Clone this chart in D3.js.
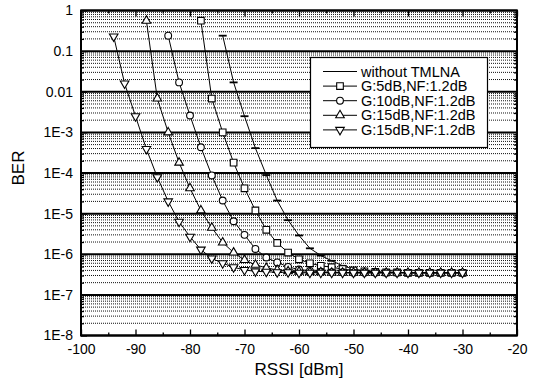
<!DOCTYPE html>
<html>
<head>
<meta charset="utf-8">
<script src="https://cdn.jsdelivr.net/npm/d3@7"></script>
<style>
  body { margin: 0; background: #fff; }
  svg { display: block; font-family: "Liberation Sans", Arial, sans-serif; }
</style>
</head>
<body>
<svg id="chart" width="534" height="383"></svg>
<script>
// axis ticks
const rssiTicks = [-100, -90, -80, -70, -60, -50, -40, -30, -20];
const rssiMinorTicks = [-95, -85, -75, -65, -55, -45, -35, -25];
const berTicks = [1, 0.1, 0.01, 1e-3, 1e-4, 1e-5, 1e-6, 1e-7, 1e-8];
const berTickLabels = ["1", "0.1", "0.01", "1E-3", "1E-4", "1E-5", "1E-6", "1E-7", "1E-8"];

// without TMLNA
const rssiWithout = [-74, -72, -70, -68, -66, -64, -62, -60, -58, -56, -54, -52, -50, -48, -46, -44, -42, -40, -38, -36, -34, -32, -30];
const berWithout = [0.24, 0.017, 2.5e-3, 4.1e-4, 8.9e-5, 2.1e-5, 6.9e-6, 2.9e-6, 1.4e-6, 9.3e-7, 6.9e-7, 5.2e-7, 4.3e-7, 3.9e-7, 3.7e-7, 3.6e-7, 3.6e-7, 3.5e-7, 3.5e-7, 3.5e-7, 3.5e-7, 3.5e-7, 3.5e-7];

// G:5dB
const rssiG5 = [-78, -76, -74, -72, -70, -68, -66, -64, -62, -60, -58, -56, -54, -52, -50, -48, -46, -44, -42, -40, -38, -36, -34, -32, -30];
const berG5 = [0.56, 6.8e-3, 1.0e-3, 1.8e-4, 4.2e-5, 1.2e-5, 4.0e-6, 1.9e-6, 1.1e-6, 7.5e-7, 6.0e-7, 5.2e-7, 4.8e-7, 4.3e-7, 4.0e-7, 3.8e-7, 3.7e-7, 3.6e-7, 3.6e-7, 3.5e-7, 3.5e-7, 3.5e-7, 3.5e-7, 3.5e-7, 3.5e-7];

// G:10dB
const rssiG10 = [-84, -82, -80, -78, -76, -74, -72, -70, -68, -66, -64, -62, -60, -58, -56, -54, -52, -50, -48, -46, -44, -42, -40, -38, -36, -34, -32, -30];
const berG10 = [0.24, 0.017, 2.6e-3, 4.3e-4, 8.7e-5, 2.1e-5, 6.5e-6, 3.0e-6, 1.35e-6, 8.3e-7, 6.3e-7, 4.9e-7, 4.2e-7, 3.9e-7, 3.7e-7, 3.6e-7, 3.6e-7, 3.5e-7, 3.5e-7, 3.5e-7, 3.5e-7, 3.5e-7, 3.5e-7, 3.5e-7, 3.5e-7, 3.5e-7, 3.5e-7, 3.5e-7];

// G:15dB (up triangles)
const rssiG15a = [-88, -86, -84, -82, -80, -78, -76, -74, -72, -70, -68, -66, -64, -62, -60, -58, -56, -54, -52, -50, -48, -46, -44, -42, -40, -38, -36, -34, -32, -30];
const berG15a = [0.56, 6.8e-3, 1.0e-3, 1.8e-4, 4.2e-5, 1.2e-5, 4.5e-6, 1.95e-6, 1.1e-6, 7.2e-7, 5.5e-7, 4.6e-7, 4.1e-7, 3.8e-7, 3.7e-7, 3.6e-7, 3.6e-7, 3.5e-7, 3.5e-7, 3.5e-7, 3.5e-7, 3.5e-7, 3.5e-7, 3.5e-7, 3.5e-7, 3.5e-7, 3.5e-7, 3.5e-7, 3.5e-7, 3.5e-7];

// G:15dB (down triangles)
const rssiG15b = [-94, -92, -90, -88, -86, -84, -82, -80, -78, -76, -74, -72, -70, -68, -66, -64, -62, -60, -58, -56, -54, -52, -50, -48, -46, -44, -42, -40, -38, -36, -34, -32, -30];
const berG15b = [0.23, 0.016, 2.5e-3, 3.9e-4, 7.9e-5, 2.0e-5, 6.3e-6, 2.7e-6, 1.3e-6, 7.9e-7, 6.0e-7, 4.8e-7, 4.1e-7, 3.8e-7, 3.7e-7, 3.6e-7, 3.6e-7, 3.5e-7, 3.5e-7, 3.5e-7, 3.5e-7, 3.5e-7, 3.5e-7, 3.5e-7, 3.5e-7, 3.5e-7, 3.5e-7, 3.5e-7, 3.5e-7, 3.5e-7, 3.5e-7, 3.5e-7, 3.5e-7];

const legendNames = ["without TMLNA", "G:5dB,NF:1.2dB", "G:10dB,NF:1.2dB", "G:15dB,NF:1.2dB", "G:15dB,NF:1.2dB"];

const plotLeft = 81, plotRight = 517, plotTop = 10.5, plotBottom = 335.5;

const svg = d3.select("#chart");

const xScale = d3.scaleLinear().domain([-100, -20]).range([plotLeft, plotRight]);
const yScale = d3.scaleLog().domain([1e-8, 1]).range([plotBottom, plotTop]);

// minor horizontal grid (dotted)
let minorBer = [];
berTicks.slice(1).forEach(d => {
    for (let k = 2; k <= 9; k++) minorBer.push(d * k);
});

svg.append("g")
    .selectAll("line")
    .data(minorBer)
    .enter()
    .append("line")
    .attr("x1", plotLeft)
    .attr("x2", plotRight)
    .attr("y1", d => yScale(d))
    .attr("y2", d => yScale(d))
    .attr("stroke", "#111")
    .attr("stroke-width", 1)
    .attr("stroke-dasharray", "1,1");

// major horizontal grid
svg.append("g")
    .selectAll("line")
    .data(berTicks)
    .enter()
    .append("line")
    .attr("x1", plotLeft)
    .attr("x2", plotRight)
    .attr("y1", d => yScale(d))
    .attr("y2", d => yScale(d))
    .attr("stroke", "#000")
    .attr("stroke-width", 2);

// axes (ticks point inward)
const axisStyle = g => {
    g.select(".domain").remove();
    g.selectAll("line").attr("stroke", "#000").attr("stroke-width", 1.3);
    g.selectAll("text").attr("fill", "#000").style("font-size", "14px");
};

svg.append("g")
    .attr("transform", "translate(0," + plotBottom + ")")
    .call(d3.axisBottom(xScale).tickValues(rssiTicks).tickSize(-6).tickPadding(9).tickFormat(d => String(d)))
    .call(axisStyle);
svg.append("g")
    .attr("transform", "translate(0," + plotBottom + ")")
    .call(d3.axisBottom(xScale).tickValues(rssiMinorTicks).tickSize(-3).tickFormat(""))
    .call(axisStyle);
svg.append("g")
    .attr("transform", "translate(0," + plotTop + ")")
    .call(d3.axisTop(xScale).tickValues(rssiTicks).tickSize(-6).tickFormat(""))
    .call(axisStyle);
svg.append("g")
    .attr("transform", "translate(0," + plotTop + ")")
    .call(d3.axisTop(xScale).tickValues(rssiMinorTicks).tickSize(-3).tickFormat(""))
    .call(axisStyle);

svg.append("g")
    .attr("transform", "translate(" + plotLeft + ",0)")
    .call(d3.axisLeft(yScale).tickValues(berTicks).tickSize(-6).tickPadding(8)
        .tickFormat((d, i) => berTickLabels[i]))
    .call(axisStyle);
svg.append("g")
    .attr("transform", "translate(" + plotLeft + ",0)")
    .call(d3.axisLeft(yScale).tickValues(minorBer).tickSize(-3).tickFormat(""))
    .call(axisStyle);
svg.append("g")
    .attr("transform", "translate(" + plotRight + ",0)")
    .call(d3.axisRight(yScale).tickValues(minorBer).tickSize(-3).tickFormat(""))
    .call(axisStyle);

// frame
svg.append("rect")
    .attr("x", plotLeft)
    .attr("y", plotTop)
    .attr("width", plotRight - plotLeft)
    .attr("height", plotBottom - plotTop)
    .attr("fill", "none")
    .attr("stroke", "#000")
    .attr("stroke-width", 2);

// series
const series = [
    { x: rssiWithout, y: berWithout, marker: "dash" },
    { x: rssiG5, y: berG5, marker: "square" },
    { x: rssiG10, y: berG10, marker: "circle" },
    { x: rssiG15a, y: berG15a, marker: "up" },
    { x: rssiG15b, y: berG15b, marker: "down" }
];

const line = d3.line()
    .x(d => xScale(d[0]))
    .y(d => yScale(d[1]));

function drawMarker(g, type, cx, cy) {
    if (type === "dash") {
        g.append("line")
            .attr("x1", cx - 4).attr("x2", cx + 4)
            .attr("y1", cy).attr("y2", cy)
            .attr("stroke", "#000").attr("stroke-width", 1.8);
        return;
    }
    let sym;
    if (type === "square") sym = d3.symbol(d3.symbolSquare, 44);
    else if (type === "circle") sym = d3.symbol(d3.symbolCircle, 36);
    else sym = d3.symbol(d3.symbolTriangle, 32);
    g.append("path")
        .attr("d", sym())
        .attr("transform", "translate(" + cx + "," + cy + ")" + (type === "down" ? " rotate(180)" : ""))
        .attr("fill", "#fff")
        .attr("stroke", "#000")
        .attr("stroke-width", 1.1);
}

series.forEach(s => {
    const pts = s.x.map((x, i) => [x, s.y[i]]);
    const g = svg.append("g");
    g.append("path")
        .datum(pts)
        .attr("d", line)
        .attr("fill", "none")
        .attr("stroke", "#000")
        .attr("stroke-width", 1);
    pts.forEach(p => drawMarker(g, s.marker, xScale(p[0]), yScale(p[1])));
});

// legend
const legend = svg.append("g");
legend.append("rect")
    .attr("x", 310.5)
    .attr("y", 57.5)
    .attr("width", 177)
    .attr("height", 90)
    .attr("fill", "#fff")
    .attr("stroke", "#000")
    .attr("stroke-width", 1.2);

legendNames.forEach((name, i) => {
    const cy = 71.5 + i * 14.6;
    legend.append("line")
        .attr("x1", 323).attr("x2", 357)
        .attr("y1", cy).attr("y2", cy)
        .attr("stroke", "#000").attr("stroke-width", 1);
    if (i > 0) drawMarker(legend, series[i].marker, 340, cy);
    legend.append("text")
        .attr("x", 361)
        .attr("y", cy)
        .attr("dy", "0.35em")
        .style("font-size", "14.5px")
        .text(name);
});

// axis titles
svg.append("text")
    .attr("x", 299)
    .attr("y", 375)
    .attr("text-anchor", "middle")
    .style("font-size", "17px")
    .text("RSSI [dBm]");

svg.append("text")
    .attr("transform", "translate(24,168) rotate(-90)")
    .attr("text-anchor", "middle")
    .style("font-size", "17px")
    .text("BER");
</script>
</body>
</html>
